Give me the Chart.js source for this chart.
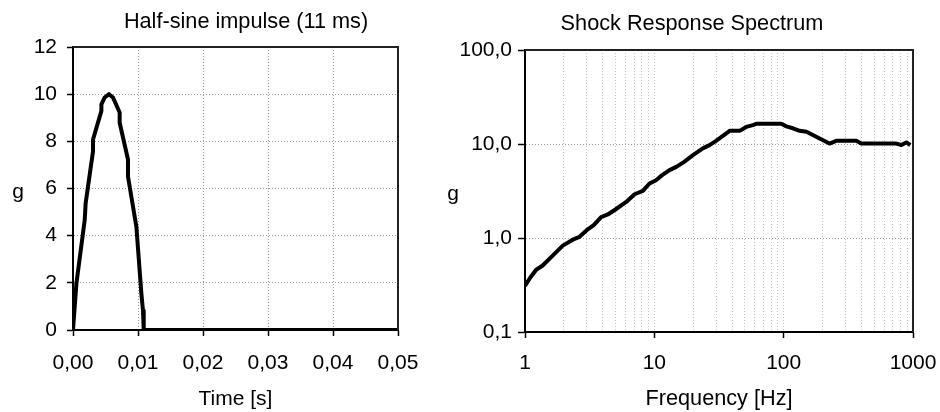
<!DOCTYPE html>
<html>
<head>
<meta charset="utf-8">
<script src="https://cdn.jsdelivr.net/npm/chart.js@4.4.0/dist/chart.umd.min.js"></script>
<style>
  html, body { margin: 0; padding: 0; background: #fff; }
  body { width: 940px; height: 412px; position: relative; overflow: hidden; }
  canvas { position: absolute; top: 0; }
  #impulse { left: 0; }
  #srs { left: 430px; }
</style>
</head>
<body>
<canvas id="impulse" width="420" height="412"></canvas>
<canvas id="srs" width="510" height="412"></canvas>
<script>
// half-sine impulse
const impulseTime = [0, 0.00052, 0.0018, 0.00195, 0.00308, 0.00308, 0.00437, 0.00437, 0.00488, 0.00554, 0.00615, 0.00718, 0.00718, 0.00846, 0.00846, 0.00975, 0.01052, 0.01077, 0.01088, 0.05];
const impulseG    = [0, 1.96, 4.66, 5.38, 7.58, 8.08, 9.29, 9.57, 9.86, 10.0, 9.86, 9.22, 8.79, 7.23, 6.51, 4.38, 1.54, 0.82, 0, 0];
const timeTicks = [0, 0.01, 0.02, 0.03, 0.04, 0.05];
const impulseTicks = [0, 2, 4, 6, 8, 10, 12];

// shock response spectrum
const srsFreq = [1.0, 1.1, 1.22, 1.37, 1.6, 1.96, 2.34, 2.64, 3.0, 3.4, 3.88, 4.37, 5.0, 6.06, 7.03, 8.15, 9.18, 10.3, 11.5, 13.1, 14.8, 17, 19.9, 23.7, 26.7, 30, 36, 38.2, 45.6, 51.4, 57.8, 61.4, 95.7, 105, 118, 133, 150, 226, 255, 364, 398, 743, 813, 887, 953];
const srsG    = [0.31, 0.38, 0.46, 0.51, 0.63, 0.83, 0.96, 1.03, 1.21, 1.37, 1.67, 1.78, 2.01, 2.42, 2.92, 3.17, 3.8, 4.12, 4.66, 5.27, 5.71, 6.46, 7.62, 8.98, 9.73, 10.8, 12.97, 13.8, 13.8, 15.2, 15.9, 16.4, 16.4, 15.4, 14.7, 13.8, 13.5, 10.1, 10.8, 10.8, 10.1, 10.1, 9.75, 10.4, 9.75];
const freqGrid = [1, 2, 3, 4, 5, 6, 7, 8, 9, 10, 20, 30, 40, 50, 60, 70, 80, 90, 100, 200, 300, 400, 500, 600, 700, 800, 900, 1000];
const freqLabels = [1, 10, 100, 1000];
const srsTicks = [0.1, 1, 10, 100];

const fontFamily = '"Liberation Sans", Arial, sans-serif';
Chart.defaults.font.family = fontFamily;
Chart.defaults.color = '#000';

const comma = (v, d) => v.toFixed(d).replace('.', ',');

// frame on top/right plus the chart title and the upright "g"
const frameText = {
  id: 'frameText',
  afterDraw(chart, args, o) {
    const ctx = chart.ctx, a = chart.chartArea;
    ctx.save();
    ctx.strokeStyle = '#222';
    ctx.lineWidth = 2;
    ctx.beginPath();
    ctx.moveTo(a.left, a.top);
    ctx.lineTo(a.right, a.top);
    ctx.lineTo(a.right, a.bottom);
    ctx.stroke();
    ctx.fillStyle = '#000';
    ctx.textAlign = 'center';
    ctx.textBaseline = 'middle';
    ctx.font = '21.7px ' + fontFamily;
    ctx.fillText(o.title, o.titleX, o.titleY);
    ctx.font = '21px ' + fontFamily;
    ctx.fillText(o.yLabel, o.yLabelX, o.yLabelY);
    ctx.restore();
  }
};

// fixed axis thickness; the layout padding alone decides the room for labels
function fixed(size) {
  return scale => {
    if (scale.isHorizontal()) {
      scale.height = size;
      scale.paddingLeft = 0;
      scale.paddingRight = 0;
    } else {
      scale.width = size;
    }
  };
}

const tickFont = { size: 21 };

new Chart(document.getElementById('impulse'), {
  type: 'scatter',
  data: {
    datasets: [{
      data: impulseTime.map((t, i) => ({ x: t, y: impulseG[i] })),
      showLine: true,
      borderColor: '#000',
      borderWidth: 4,
      borderJoinStyle: 'round',
      pointRadius: 0
    }]
  },
  options: {
    responsive: false,
    animation: false,
    layout: { padding: { top: 47, right: 22, left: 0, bottom: 0 } },
    plugins: {
      legend: { display: false },
      tooltip: { enabled: false },
      frameText: { title: 'Half-sine impulse (11 ms)', titleX: 246, titleY: 22, yLabel: 'g', yLabelX: 18, yLabelY: 192 }
    },
    scales: {
      x: {
        type: 'linear', min: 0, max: 0.05,
        afterFit: fixed(82),
        afterBuildTicks: s => { s.ticks = timeTicks.map(v => ({ value: v })); },
        ticks: { font: tickFont, padding: 15, maxRotation: 0, callback: v => comma(v, 2) },
        grid: { color: '#9a9a9a', tickColor: '#000', tickLength: 6, tickWidth: 1.5 },
        border: { color: '#000', width: 2, dash: [1, 2] },
        title: { display: true, text: 'Time [s]', font: { size: 21 }, padding: { top: 0, bottom: 0 } }
      },
      y: {
        min: 0, max: 12,
        afterFit: fixed(73),
        afterBuildTicks: s => { s.ticks = impulseTicks.map(v => ({ value: v })); },
        ticks: { font: tickFont, padding: 10 },
        grid: { color: '#9a9a9a', tickColor: '#000', tickLength: 6, tickWidth: 1.5 },
        border: { color: '#000', width: 2, dash: [1, 2] }
      }
    }
  },
  plugins: [frameText]
});

new Chart(document.getElementById('srs'), {
  type: 'scatter',
  data: {
    datasets: [{
      data: srsFreq.map((f, i) => ({ x: f, y: srsG[i] })),
      showLine: true,
      borderColor: '#000',
      borderWidth: 4,
      borderJoinStyle: 'round',
      pointRadius: 0
    }]
  },
  options: {
    responsive: false,
    animation: false,
    layout: { padding: { top: 50, right: 27, left: 0, bottom: 0 } },
    plugins: {
      legend: { display: false },
      tooltip: { enabled: false },
      frameText: { title: 'Shock Response Spectrum', titleX: 262, titleY: 24, yLabel: 'g', yLabelX: 23, yLabelY: 194 }
    },
    scales: {
      x: {
        type: 'logarithmic', min: 1, max: 1000,
        afterFit: fixed(80),
        afterBuildTicks: s => { s.ticks = freqGrid.map(v => ({ value: v })); },
        ticks: {
          font: tickFont, padding: 13, maxRotation: 0, autoSkip: false,
          callback: v => freqLabels.includes(v) ? String(v) : ''
        },
        grid: {
          color: '#c4c4c4',
          tickColor: c => freqLabels.includes(c.tick.value) ? '#000' : 'rgba(0,0,0,0)',
          tickLength: 6, tickWidth: 1.5
        },
        border: { color: '#000', width: 2, dash: [1, 2] },
        title: { display: true, text: 'Frequency [Hz]', font: { size: 21.7 }, padding: { top: 0, bottom: 0 } }
      },
      y: {
        type: 'logarithmic', min: 0.1, max: 100,
        afterFit: fixed(95),
        afterBuildTicks: s => { s.ticks = srsTicks.map(v => ({ value: v })); },
        ticks: { font: tickFont, padding: 6, callback: v => comma(v, 1) },
        grid: { color: '#9a9a9a', tickColor: '#000', tickLength: 7, tickWidth: 1.5 },
        border: { color: '#000', width: 2, dash: [1, 2] }
      }
    }
  },
  plugins: [frameText]
});
</script>
</body>
</html>
